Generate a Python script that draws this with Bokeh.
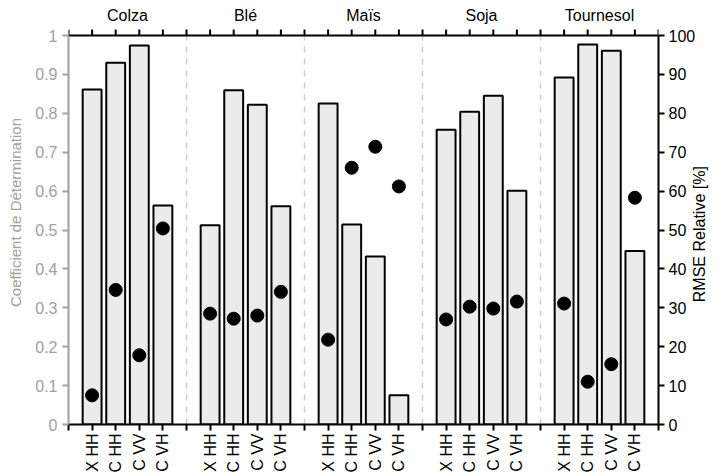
import math
from bokeh.plotting import figure
from bokeh.models import (Range1d, LinearAxis, FixedTicker, ColumnDataSource)
from bokeh.core.properties import value
from bokeh.embed import file_html
from bokeh.resources import INLINE

groups = ["Colza", "Blé", "Maïs", "Soja", "Tournesol"]
configs = ["X HH", "C HH", "C VV", "C VH"]

# Coefficient de Détermination (left axis), per group, in config order
r2_colza = [0.861, 0.930, 0.974, 0.563]
r2_ble = [0.512, 0.859, 0.822, 0.561]
r2_mais = [0.825, 0.514, 0.432, 0.075]
r2_soja = [0.758, 0.804, 0.845, 0.601]
r2_tournesol = [0.892, 0.977, 0.961, 0.446]

# RMSE Relative [%] (right axis)
rmse_colza = [7.5, 34.6, 17.8, 50.4]
rmse_ble = [28.5, 27.2, 28.0, 34.1]
rmse_mais = [21.8, 66.0, 71.4, 61.2]
rmse_soja = [27.0, 30.3, 29.8, 31.6]
rmse_tournesol = [31.1, 11.0, 15.5, 58.3]

left_ticks = [0, 0.1, 0.2, 0.3, 0.4, 0.5, 0.6, 0.7, 0.8, 0.9, 1]
left_tick_labels = ["0", "0.1", "0.2", "0.3", "0.4", "0.5", "0.6", "0.7", "0.8", "0.9", "1"]
right_ticks = [0, 10, 20, 30, 40, 50, 60, 70, 80, 90, 100]
left_title = "Coefficient de Détermination"
right_title = "RMSE Relative   [%]"

r2_all = [r2_colza, r2_ble, r2_mais, r2_soja, r2_tournesol]
rmse_all = [rmse_colza, rmse_ble, rmse_mais, rmse_soja, rmse_tournesol]

slot = len(configs) + 1
xs, tops, rm, labels = [], [], [], []
for gi, g in enumerate(groups):
    for ci, c in enumerate(configs):
        xs.append(gi * slot + ci + 1)
        tops.append(r2_all[gi][ci])
        rm.append(rmse_all[gi][ci])
        labels.append(c)
src = ColumnDataSource(dict(x=xs, top=tops, rmse=rm, label=labels))

nx = len(groups) * slot
FONT = "Liberation Sans"
GRAY = "#a0a0a0"

# layout (pixels)
W, H = 719, 475
LEFT, RIGHT, TOP_LINE, BOTTOM = 68, 58, 35, 51
TICK = 6
TITLE_ABOVE = 20                        # group names centre above the top line
plot_h = H - TOP_LINE - BOTTOM          # height of the 0..1 area
plot_w = W - LEFT - RIGHT
y_lo, y_hi = left_ticks[0], left_ticks[-1]
r_lo, r_hi = right_ticks[0], right_ticks[-1]
px = (y_hi - y_lo) / plot_h             # data units per pixel (left scale)
rpx = (r_hi - r_lo) / plot_h            # data units per pixel (right scale)
xpx = nx / plot_w                       # x data units per pixel

p = figure(width=W, height=H, output_backend="svg", toolbar_location=None,
           x_range=Range1d(0, nx), y_range=Range1d(y_lo, y_hi + TOP_LINE * px),
           min_border_left=LEFT, min_border_right=RIGHT, min_border_top=0,
           min_border_bottom=BOTTOM)
p.title.visible = False
p.xgrid.visible = False
p.ygrid.visible = False
p.outline_line_color = None
p.background_fill_color = "white"
p.border_fill_color = "white"

# dashed group separators (0..1 only)
seps = [gi * slot for gi in range(1, len(groups))]
p.segment(x0=seps, y0=[y_lo] * len(seps), x1=seps, y1=[y_hi] * len(seps),
          line_color="#cccccc", line_dash="dashed", line_width=1.5)

p.vbar(x="x", top="top", width=0.8, bottom=0, source=src, fill_color="#ebebeb",
       line_color="black", line_width=2)

p.extra_y_ranges = {"rmse": Range1d(r_lo, r_hi + TOP_LINE * rpx)}
p.scatter(x="x", y="rmse", source=src, y_range_name="rmse", size=13,
          fill_color="black", line_color="black")

# top axis line and tick marks, as filled strips
all_ticks = list(range(0, nx + 1))
p.quad(left=[0], right=[nx], bottom=[y_hi - 1 * px], top=[y_hi + 1 * px],
       fill_color="black", line_color=None)
p.quad(left=[t - 1 * xpx for t in all_ticks], right=[t + 1 * xpx for t in all_ticks],
       bottom=[y_hi] * len(all_ticks), top=[y_hi + TICK * px] * len(all_ticks),
       fill_color="black", line_color=None)
centers = [gi * slot + slot / 2 for gi in range(len(groups))]
p.text(x=centers, y=[y_hi + TITLE_ABOVE * px] * len(centers), text=groups,
       text_font=value(FONT), text_font_size="16px", text_color="black",
       text_align="center", text_baseline="middle")

# bottom axis
overrides = {t: "" for t in all_ticks}
for x, l in zip(xs, labels):
    overrides[x] = l
xa = p.xaxis[0]
xa.ticker = FixedTicker(ticks=all_ticks)
xa.major_label_overrides = overrides
xa.major_label_orientation = math.pi / 2
xa.major_label_text_font = FONT
xa.major_label_text_font_size = "16px"
xa.major_label_text_color = "black"
xa.major_label_standoff = 3
xa.major_tick_in = 0
xa.major_tick_out = TICK
xa.minor_tick_out = 0
xa.minor_tick_in = 0
xa.axis_line_width = 2
xa.major_tick_line_width = 2
xa.axis_line_color = "black"

# left axis
ya = p.yaxis[0]
ya.bounds = (y_lo, y_hi)
ya.ticker = FixedTicker(ticks=left_ticks)
ya.major_label_overrides = {t: s for t, s in zip(left_ticks, left_tick_labels)}
ya.axis_line_color = GRAY
ya.major_tick_line_color = GRAY
ya.major_label_text_color = GRAY
ya.axis_label = left_title
ya.axis_label_text_color = GRAY
ya.axis_label_text_font = FONT
ya.axis_label_text_font_style = "normal"
ya.axis_label_text_font_size = "15px"
ya.axis_label_standoff = 8
ya.major_label_text_font = FONT
ya.major_label_text_font_size = "16px"
ya.major_tick_in = 0
ya.major_tick_out = TICK
ya.minor_tick_in = 0
ya.minor_tick_out = 0
ya.axis_line_width = 2
ya.major_tick_line_width = 2

# right axis
ra = LinearAxis(y_range_name="rmse", ticker=FixedTicker(ticks=right_ticks),
                bounds=(r_lo, r_hi),
                major_label_text_font=FONT, major_label_text_font_size="16px",
                major_label_text_color="black", major_label_standoff=4,
                major_tick_in=0, major_tick_out=TICK,
                minor_tick_in=0, minor_tick_out=0, axis_line_width=2,
                major_tick_line_width=2, axis_line_color="black")
p.add_layout(ra, "right")

# right title (reads bottom-to-top); its label starts at the tick, so the tick
# sits half a text length below the middle of the axis
title_px = 16 * 0.5 * len(right_title) * 0.95
title_tick = (r_lo + r_hi) / 2 - (title_px / 2) * rpx
rt = LinearAxis(y_range_name="rmse", ticker=FixedTicker(ticks=[title_tick]),
                major_label_overrides={title_tick: right_title},
                major_label_orientation=math.pi / 2,
                major_label_text_font=FONT, major_label_text_font_size="16px",
                major_label_text_color="black", major_label_standoff=1,
                major_tick_in=0, major_tick_out=0, minor_tick_in=0, minor_tick_out=0,
                axis_line_color=None, major_tick_line_color=None,
                minor_tick_line_color=None)
p.add_layout(rt, "right")

open("out.html", "w").write(file_html(p, INLINE))
